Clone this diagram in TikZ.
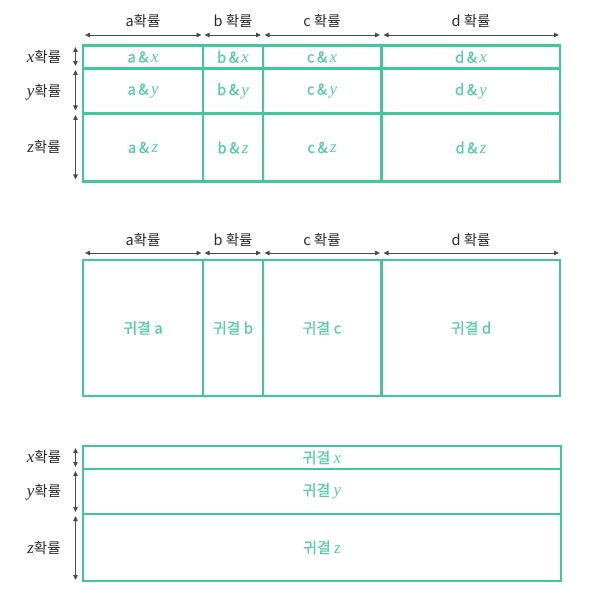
\documentclass[tikz,border=0pt]{standalone}
\usepackage{fontspec}
\setmainfont{Noto Sans CJK KR}
\newfontfamily\cellfont{Noto Sans CJK KR}[FakeBold=0.7]
\newfontfamily\lserif{Liberation Serif}
\usetikzlibrary{arrows.meta}
\definecolor{boxgreen}{HTML}{3FC99B}
\definecolor{txtgreen}{HTML}{55CDA5}
\definecolor{labblack}{HTML}{2A2A2A}
\definecolor{arrowgray}{HTML}{4A4A4A}
\newcommand\varit[1]{{\lserif\itshape\fontsize{17}{17}\selectfont #1}}
\begin{document}
\begin{tikzpicture}[x=1pt,y=-1pt,
  cell/.style={draw=boxgreen,line width=2.4pt,rectangle,inner sep=0pt,text=txtgreen,font=\cellfont\fontsize{15}{17}\selectfont},
  lab/.style={text=labblack,font=\fontsize{14.5}{16}\selectfont,inner sep=0pt},
  dim/.style={draw=arrowgray,line width=0.8pt,{Triangle[length=5pt,width=4.5pt]}-{Triangle[length=5pt,width=4.5pt]}}]
\useasboundingbox (0,0) rectangle (611,607);

% ---------- top grid ----------
\foreach \c/\cx/\w in {a/143/120,b/233/60,c/322/118,d/471/178}{
  \node[cell,minimum width=\w,minimum height=23] (t\c x) at (\cx,57) {\c\,\&\,\varit{x}};
  \node[cell,minimum width=\w,minimum height=45] (t\c y) at (\cx,91) {\c\,\&\,\varit{y}};
  \node[cell,minimum width=\w,minimum height=68] (t\c z) at (\cx,147.5) {\c\,\&\,\varit{z}};
}
% top labels
\node[lab] (tla) at (143,21) {a확률};
\node[lab] (tlb) at (233,21) {b 확률};
\node[lab] (tlc) at (322,21) {c 확률};
\node[lab] (tld) at (471,21) {d 확률};
\coordinate (ta1) at (85,35);  \coordinate (ta2) at (201.5,35);
\coordinate (tb1) at (204.5,35); \coordinate (tb2) at (261,35);
\coordinate (tc1) at (264.5,35); \coordinate (tc2) at (380,35);
\coordinate (td1) at (383.5,35); \coordinate (td2) at (559,35);
\draw[dim] (ta1) -- (ta2);
\draw[dim] (tb1) -- (tb2);
\draw[dim] (tc1) -- (tc2);
\draw[dim] (td1) -- (td2);
% left labels
\node[lab] (tlx) at (44,57) {\varit{x}확률};
\node[lab] (tly) at (44,92) {\varit{y}확률};
\node[lab] (tlz) at (44,147) {\varit{z}확률};
\coordinate (tx1) at (75.5,47); \coordinate (tx2) at (75.5,66);
\coordinate (ty1) at (75.5,70); \coordinate (ty2) at (75.5,110.5);
\coordinate (tz1) at (75.5,115); \coordinate (tz2) at (75.5,179.5);
\draw[dim] (tx1) -- (tx2);
\draw[dim] (ty1) -- (ty2);
\draw[dim] (tz1) -- (tz2);

% ---------- middle ----------
\foreach \c/\cx/\w in {a/143/120,b/233/60,c/322/118,d/471/178}{
  \node[cell,minimum width=\w,minimum height=136] (m\c) at (\cx,328) {귀결 \c};
}
\node[lab] (mla) at (143,240) {a확률};
\node[lab] (mlb) at (233,240) {b 확률};
\node[lab] (mlc) at (322,240) {c 확률};
\node[lab] (mld) at (471,240) {d 확률};
\coordinate (ma1) at (85,253);  \coordinate (ma2) at (201.5,253);
\coordinate (mb1) at (204.5,253); \coordinate (mb2) at (261,253);
\coordinate (mc1) at (264.5,253); \coordinate (mc2) at (380,253);
\coordinate (md1) at (383.5,253); \coordinate (md2) at (559,253);
\draw[dim] (ma1) -- (ma2);
\draw[dim] (mb1) -- (mb2);
\draw[dim] (mc1) -- (mc2);
\draw[dim] (md1) -- (md2);

% ---------- bottom ----------
\node[cell,minimum width=478,minimum height=23] (bx) at (322,457.5) {귀결 \varit{x}};
\node[cell,minimum width=478,minimum height=45] (by) at (322,491.5) {귀결 \varit{y}};
\node[cell,minimum width=478,minimum height=67] (bz) at (322,547.5) {귀결 \varit{z}};
\node[lab] (blx) at (44,457) {\varit{x}확률};
\node[lab] (bly) at (44,492) {\varit{y}확률};
\node[lab] (blz) at (44,548) {\varit{z}확률};
\coordinate (bx1) at (75.5,448); \coordinate (bx2) at (75.5,467);
\coordinate (by1) at (75.5,471); \coordinate (by2) at (75.5,512);
\coordinate (bz1) at (75.5,516); \coordinate (bz2) at (75.5,580);
\draw[dim] (bx1) -- (bx2);
\draw[dim] (by1) -- (by2);
\draw[dim] (bz1) -- (bz2);
\end{tikzpicture}
\end{document}
